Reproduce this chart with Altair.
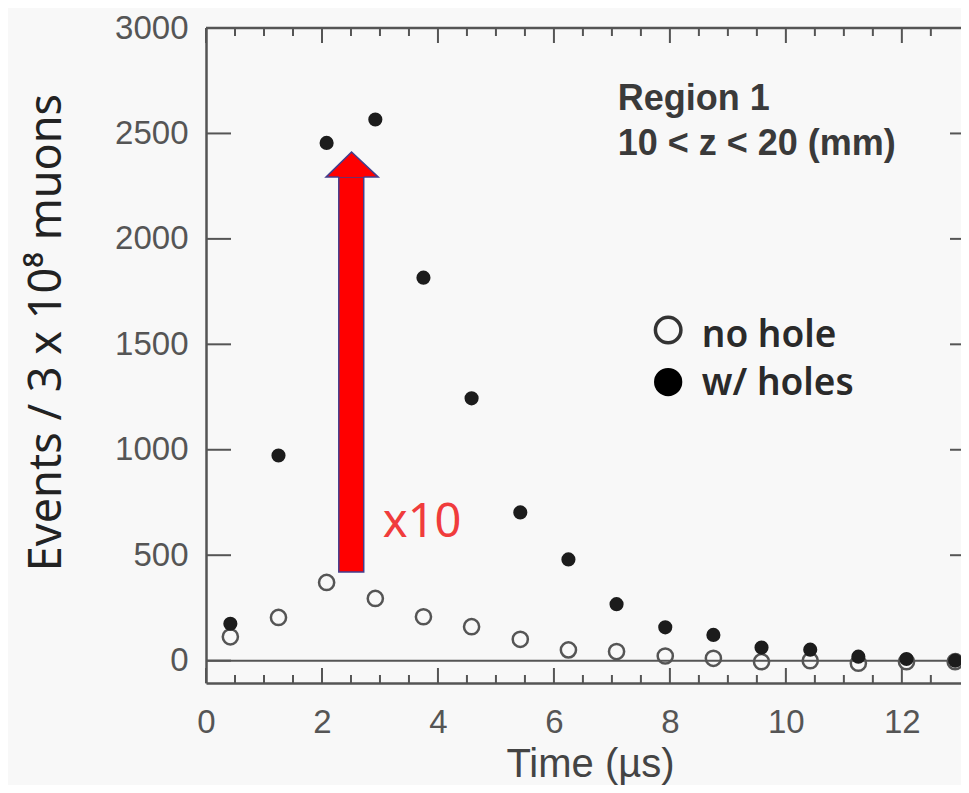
import altair as alt
import pandas as pd

# ---- data ----
time_us = [0.42, 1.25, 2.08, 2.92, 3.75, 4.58, 5.42, 6.25, 7.08, 7.92, 8.75, 9.58, 10.42, 11.25, 12.08, 12.92]
with_holes = [175, 973, 2455, 2566, 1816, 1244, 703, 480, 268, 158, 122, 62, 52, 19, 8, 0]
no_hole = [113, 205, 371, 295, 208, 161, 101, 51, 43, 22, 11, -5, 0, -12, -5, -5]

x_major = [0, 2, 4, 6, 8, 10, 12]
x_minor = [0.5, 1, 1.5, 2.5, 3, 3.5, 4.5, 5, 5.5, 6.5, 7, 7.5, 8.5, 9, 9.5, 10.5, 11, 11.5, 12.5]
y_major = [0, 500, 1000, 1500, 2000, 2500, 3000]

x_range = [0, 13.02]
y_range = [-106, 3000]

# arrow annotation (data coordinates)
shaft_x = [2.29]
shaft_x2 = [2.72]
shaft_y = [420]
shaft_y2 = [2293]
head_x = [2.07, 2.51, 2.97]
head_y = [2293, 2412, 2293]
head_base = [2293, 2293, 2293]
outline_x = [2.29, 2.07, 2.51, 2.97, 2.72]
outline_y = [2293, 2293, 2412, 2293, 2293]

region_lines = ["Region 1", "10 < z < 20 (mm)"]
region_x = [7.10, 7.10]
region_y = [2611, 2398]

legend_labels = ["no hole", "w/ holes"]
legend_marker_x = [7.97, 7.97]
legend_marker_y = [1568, 1321]
legend_text_x = [8.55, 8.55]
legend_text_y = [1487, 1260]

factor_label = ["x10"]
factor_x = [3.05]
factor_y = [587]

# ---- chart ----
xs = alt.Scale(domain=x_range, nice=False, zero=False)
ys = alt.Scale(domain=y_range, nice=False, zero=False)
FRAME = "#555555"

x_axis = alt.Axis(values=x_major, ticks=False, tickSize=0, domain=True, domainColor=FRAME,
                  domainWidth=2.5, grid=False, labelFont="Liberation Sans", labelFontSize=33,
                  labelColor="#555555", labelPadding=23, labelFlush=False, labelOverlap=False,
                  format="d", title="Time (µs)", titleFont="Liberation Sans", titleFontSize=40,
                  titleFontWeight="normal", titleColor="#444444", titleX=384, titleY=93,
                  titleBaseline="alphabetic", titleAlign="center")
y_axis = alt.Axis(values=y_major, ticks=False, tickSize=0, domain=True, domainColor=FRAME,
                  domainWidth=2.5, grid=False, labelFont="Liberation Sans", labelFontSize=33,
                  labelColor="#555555", labelPadding=18, labelOverlap=False, format="d",
                  title="Events / 3 x 10⁸ muons", titleFont="Noto Sans", titleFontSize=45,
                  titleFontWeight="normal", titleColor="#222222", titleAngle=270, titleX=-146,
                  titleY=304, titleBaseline="alphabetic", titleAlign="center")

one = pd.DataFrame({"a": [0]})

def X(field):
    return alt.X(field, scale=xs, axis=x_axis)

def Y(field):
    return alt.Y(field, scale=ys, axis=y_axis)

def vticks(values, yval, size, offset):
    return alt.Chart(pd.DataFrame({"v": values})).mark_tick(
        orient="vertical", size=size, thickness=2, yOffset=offset, color=FRAME, opacity=1
    ).encode(x=X("v:Q"), y=alt.YDatum(yval, scale=ys, axis=y_axis))

def hticks(values, xval, size, offset):
    return alt.Chart(pd.DataFrame({"v": values})).mark_tick(
        orient="horizontal", size=size, thickness=2, xOffset=offset, color=FRAME, opacity=1
    ).encode(y=Y("v:Q"), x=alt.XDatum(xval, scale=xs, axis=x_axis))

zero_line = alt.Chart(one).mark_rule(color=FRAME, strokeWidth=2).encode(
    y=alt.YDatum(0, scale=ys, axis=y_axis))
top_line = alt.Chart(one).mark_rule(color=FRAME, strokeWidth=2.5).encode(
    y=alt.YDatum(y_range[1], scale=ys, axis=y_axis))

ticks = [
    vticks(x_major, y_range[0], 15, -7.5),
    vticks(x_minor, y_range[0], 8, -4),
    vticks(x_major, y_range[1], 15, 7.5),
    vticks(x_minor, y_range[1], 8, 4),
    hticks(y_major, x_range[0], 25, 12.5),
    hticks(y_major, x_range[1], 25, 1.5),
]

pts = pd.DataFrame({"t": time_us, "holes": with_holes, "nohole": no_hole})
open_pts = alt.Chart(pts).mark_point(shape="circle", filled=False, size=230, strokeWidth=2.5,
                                     color="#555555", opacity=1).encode(
    x=X("t:Q"), y=Y("nohole:Q"))
filled_pts = alt.Chart(pts).mark_circle(size=200, color="#1c1c1c", opacity=1).encode(
    x=X("t:Q"), y=Y("holes:Q"))

ARROW_RED = "#ff0000"
ARROW_EDGE = "#443d8c"
shaft = alt.Chart(pd.DataFrame({"x": shaft_x, "x2": shaft_x2, "y": shaft_y, "y2": shaft_y2})).mark_bar(
    color=ARROW_RED, stroke=ARROW_EDGE, strokeWidth=1.5, opacity=1).encode(
    x=X("x:Q"), x2="x2:Q", y=Y("y:Q"), y2="y2:Q")
head = alt.Chart(pd.DataFrame({"x": head_x, "y": head_y, "y2": head_base})).mark_area(
    color=ARROW_RED, orient="vertical", opacity=1).encode(
    x=X("x:Q"), y=Y("y:Q"), y2="y2:Q")
head_edge = alt.Chart(pd.DataFrame({"x": outline_x, "y": outline_y, "i": list(range(len(outline_x)))})).mark_line(
    color=ARROW_EDGE, strokeWidth=1.5).encode(
    x=X("x:Q"), y=Y("y:Q"), order="i:Q")

def texts(labels, xv, yv, font, size, weight, color):
    return alt.Chart(pd.DataFrame({"x": xv, "y": yv, "s": labels})).mark_text(
        font=font, fontSize=size, fontWeight=weight, color=color, align="left", baseline="alphabetic"
    ).encode(x=X("x:Q"), y=Y("y:Q"), text="s:N")

region = texts(region_lines, region_x, region_y, "Liberation Sans", 36, "bold", "#3a3a3a")
legend_txt = texts(legend_labels, legend_text_x, legend_text_y, "Noto Sans", 37, 600, "#2a2a2a")
factor = texts(factor_label, factor_x, factor_y, "Noto Sans", 47, "normal", "#f03c3c")

leg_open = alt.Chart(pd.DataFrame({"x": legend_marker_x[:1], "y": legend_marker_y[:1]})).mark_point(
    shape="circle", filled=False, size=650, strokeWidth=3.5, color="#333333", opacity=1).encode(
    x=X("x:Q"), y=Y("y:Q"))
leg_filled = alt.Chart(pd.DataFrame({"x": legend_marker_x[1:], "y": legend_marker_y[1:]})).mark_circle(
    size=800, color="#000000", opacity=1).encode(
    x=X("x:Q"), y=Y("y:Q"))

chart = alt.layer(
    open_pts, zero_line, top_line, *ticks, filled_pts,
    shaft, head, head_edge, region, legend_txt, factor, leg_open, leg_filled
).properties(
    width=755, height=655,
    autosize=alt.AutoSizeParams(type="none"),
    padding={"left": 198, "top": 20, "right": 0, "bottom": 102},
    background="#f8f8f8",
).configure_view(stroke=None)

chart.save("out.html", embed_options={"renderer": "svg", "actions": False})
